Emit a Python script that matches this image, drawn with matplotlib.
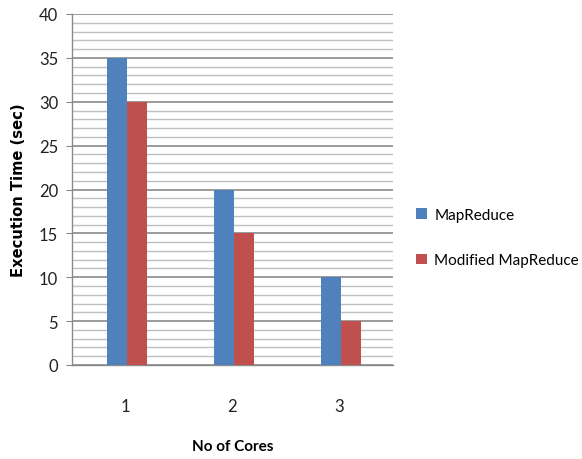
import matplotlib
matplotlib.use("Agg")
import matplotlib.pyplot as plt
import numpy as np

cores = ["1", "2", "3"]
mapreduce = [35, 20, 10]
modified = [30, 15, 5]
series_names = ["MapReduce", "Modified MapReduce"]
yticks = [0, 5, 10, 15, 20, 25, 30, 35, 40]

plt.rcParams['font.family'] = ['Lato', 'DejaVu Sans']

fig = plt.figure(figsize=(5.82, 4.60), dpi=100)
ax = fig.add_axes([72/582, 1-366/460, (393-72)/582, (366-15)/460])

x = np.arange(1, len(cores) + 1)
w = 0.19
ax.bar(x - w/2 + 0.015, mapreduce, width=w, color="#4F81BD", label=series_names[0], zorder=3)
ax.bar(x + w/2 + 0.015, modified, width=w, color="#C0504D", label=series_names[1], zorder=3)

ax.set_xlim(0.5, 3.5)
ax.set_ylim(0, 40)
ax.set_yticks(yticks)
ax.set_yticks(np.arange(0, 41, 1), minor=True)
ax.set_xticks(x)
ax.set_xticklabels(cores)

ax.grid(axis='y', which='major', color='#8a8a8a', linewidth=1.2, zorder=0)
ax.grid(axis='y', which='minor', color='#c0c0c0', linewidth=1.0, zorder=0)
ax.grid(axis='x', visible=False)

for s in ['top', 'right']:
    ax.spines[s].set_visible(False)
for s in ['left', 'bottom']:
    ax.spines[s].set_color('#8a8a8a')
    ax.spines[s].set_linewidth(1.0)

ax.tick_params(axis='y', which='major', length=4, color='#8a8a8a', labelsize=12, labelcolor='#222222', pad=6)
ax.tick_params(axis='y', which='minor', length=0)
ax.tick_params(axis='x', length=0, labelsize=12, labelcolor='#222222', pad=24)

ax.set_ylabel("Execution Time (sec)", fontsize=10.6, fontweight='bold', labelpad=9,
              family=['DejaVu Sans'])
ax.set_xlabel("No of Cores", fontsize=11, fontweight='bold', labelpad=18)

leg = fig.legend(loc='upper left', bbox_to_anchor=(410/582, 1-203/460),
                 frameon=False, fontsize=11, handlelength=0.7, handleheight=0.7,
                 handletextpad=0.5, labelspacing=2.05, borderaxespad=0)

fig.savefig("out.png", dpi=100)
